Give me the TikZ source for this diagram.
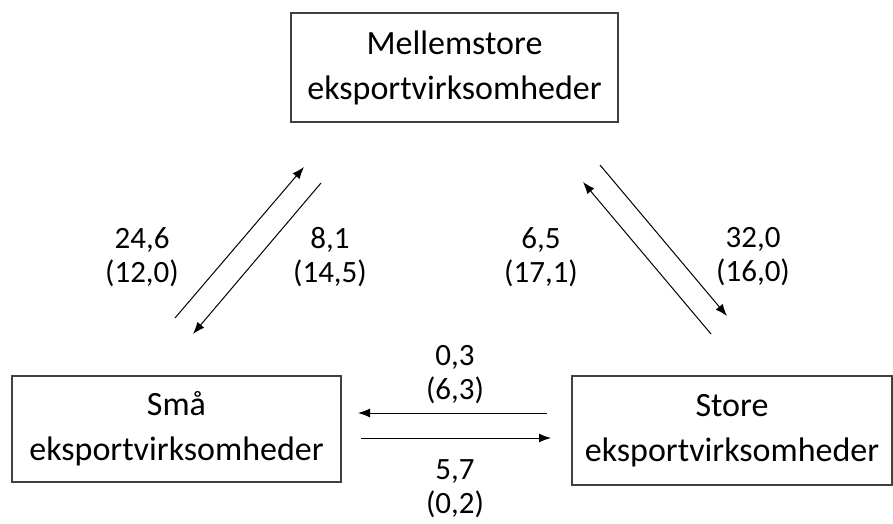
\documentclass[tikz,border=0pt]{standalone}
\usepackage{fontspec}
\setmainfont{Carlito}
\usetikzlibrary{arrows.meta}
\begin{document}
\begin{tikzpicture}[x=1pt,y=-1pt,
  box/.style={draw=black!75,line width=1.2pt,align=center,inner sep=0pt,font=\fontsize{34}{45}\selectfont},
  lbl/.style={align=center,font=\fontsize{31}{34}\selectfont},
  flow/.style={line width=1pt,-{Latex[length=12pt,width=9pt]}}]
\useasboundingbox (0,0) rectangle (893,524);
\node[box,minimum width=327pt,minimum height=109pt] (mid) at (454.5,67.5) {Mellemstore\\eksportvirksomheder};
\node[box,minimum width=329pt,minimum height=106pt] (small) at (176.5,429) {Små\\eksportvirksomheder};
\node[box,minimum width=320pt,minimum height=109pt] (large) at (732,430.5) {Store\\eksportvirksomheder};
% top-left pair
\coordinate (a1) at (175,318); \coordinate (a2) at (304,167);
\coordinate (b1) at (321,183); \coordinate (b2) at (193,334);
% top-right pair
\coordinate (c1) at (600,165); \coordinate (c2) at (727,316);
\coordinate (d1) at (711,334); \coordinate (d2) at (583,182);
% horizontal pair
\coordinate (e1) at (547,413); \coordinate (e2) at (358,413);
\coordinate (f1) at (361,438); \coordinate (f2) at (551,438);
\draw[flow] (a1) -- (a2);
\draw[flow] (b1) -- (b2);
\draw[flow] (c1) -- (c2);
\draw[flow] (d1) -- (d2);
\draw[flow] (e1) -- (e2);
\draw[flow] (f1) -- (f2);
\node[lbl] (l1) at (142,257) {24,6\\(12,0)};
\node[lbl] (l2) at (330,257) {8,1\\(14,5)};
\node[lbl] (l3) at (541,257) {6,5\\(17,1)};
\node[lbl] (l4) at (753,257) {32,0\\(16,0)};
\node[lbl] (l5) at (455,375) {0,3\\(6,3)};
\node[lbl] (l6) at (455,489) {5,7\\(0,2)};
\end{tikzpicture}
\end{document}
